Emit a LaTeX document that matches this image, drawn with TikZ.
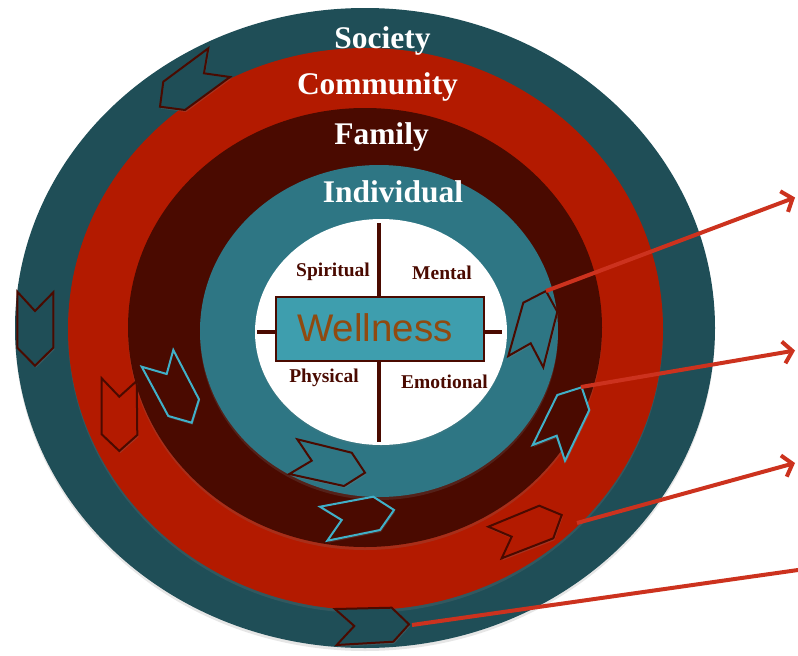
\documentclass[tikz,border=0pt]{standalone}
\usepackage{fontspec}
\setmainfont{Liberation Serif}
\newfontfamily\wellfont{Liberation Sans}
\usetikzlibrary{arrows.meta,shadows}

\definecolor{societyteal}{HTML}{1F4E57}
\definecolor{communityred}{HTML}{B31A00}
\definecolor{familybrown}{HTML}{4A0A00}
\definecolor{individualteal}{HTML}{2E7684}
\definecolor{wellnessblue}{HTML}{3E9EAE}
\definecolor{wellnesstext}{HTML}{8F4A10}
\definecolor{edgebrown}{HTML}{4A0A00}
\definecolor{edgeblue}{HTML}{40B0C8}
\definecolor{pointerred}{HTML}{CC321E}

\tikzset{
  ring/.style={drop shadow={opacity=0.2,shadow xshift=0pt,shadow yshift=-3pt}},
  ringlabel/.style={text=white,font=\bfseries\fontsize{31.5}{36}\selectfont,anchor=base},
  partlabel/.style={text=familybrown,font=\bfseries\fontsize{19.5}{22}\selectfont,anchor=base},
  chevron/.style={line width=2pt,drop shadow={opacity=0.25,shadow xshift=1pt,shadow yshift=-2pt}},
  societychev/.style={chevron,fill=societyteal,draw=edgebrown},
  communitychev/.style={chevron,fill=communityred,draw=edgebrown},
  familychev/.style={chevron,fill=familybrown,draw=edgeblue},
  individualchev/.style={chevron,fill=individualteal,draw=edgebrown},
  pointer/.style={pointerred,line width=4pt,-{Straight Barb[length=9pt,width=22pt]}},
}

\begin{document}
\begin{tikzpicture}[x=1pt,y=-1pt]
  \useasboundingbox (0,0) rectangle (798,656);

  % rings, outside in
  \fill[societyteal,ring] (365,328) ellipse (350pt and 320pt);
  \fill[communityred,ring] (365.5,329) ellipse (297.5pt and 281pt);
  \fill[familybrown,ring] (365,327.5) ellipse (237pt and 219.5pt);
  \fill[individualteal,ring] (379,331) ellipse (179pt and 166pt);
  \fill[white,drop shadow={opacity=0.12,shadow xshift=0pt,shadow yshift=-2pt}] (381,332) ellipse (126pt and 113pt);

  \node[ringlabel] (society) at (382.5,48) {Society};
  \node[ringlabel] (community) at (377.5,94) {Community};
  \node[ringlabel] (family) at (381.5,144) {Family};
  \node[ringlabel] (individual) at (393,202) {Individual};

  % cross and centre box
  \draw[familybrown,line width=4pt] (379,223) -- (379,442);
  \draw[familybrown,line width=4pt] (257,332) -- (502,332);
  \node[draw=familybrown,fill=wellnessblue,line width=2pt,minimum width=208pt,
        minimum height=64pt,inner sep=0pt] (wellness) at (380,329) {};
  \node[font=\wellfont\fontsize{38.5}{40}\selectfont,text=wellnesstext,anchor=base]
    (wellnesslabel) at (375,341) {Wellness};

  \node[partlabel] (spiritual) at (333,276) {Spiritual};
  \node[partlabel] (mental) at (442,279) {Mental};
  \node[partlabel] (physical) at (324,382) {Physical};
  \node[partlabel] (emotional) at (444.5,388) {Emotional};

  % chevrons round the rings
  \draw[societychev] (208.3,48.3) -- (204,73.3) -- (230,77) -- (185,110) -- (160,106.7) -- (163.3,81.7) -- cycle;
  \draw[societychev] (17.3,291.7) -- (35,311) -- (53.3,292.3) -- (53.3,347.7) -- (35,365.7) -- (17.3,347.7) -- cycle;
  \draw[societychev] (335,609) -- (354.3,626) -- (336.7,645) -- (393.3,641.7) -- (409,624.3) -- (391.7,607.7) -- cycle;
  \draw[communitychev] (101.7,378.3) -- (119.3,396.7) -- (136.7,381) -- (137.3,435) -- (119.3,451) -- (101.7,434.3) -- cycle;
  \draw[communitychev] (488.3,526.7) -- (511.7,536.7) -- (501.7,558.3) -- (553.3,538.3) -- (561.7,515) -- (539.3,505.7) -- cycle;
  \draw[familychev] (173.3,350) -- (166.7,374) -- (141.7,366.7) -- (168.3,416) -- (191.7,422.7) -- (199,399.3) -- cycle;
  \draw[familychev] (320,506.7) -- (341.7,520) -- (327.3,540.7) -- (380,530) -- (394,510) -- (373.3,496.7) -- cycle;
  \draw[familychev] (532.7,445) -- (556.7,435.7) -- (565,460.7) -- (589.3,410) -- (581.7,387.3) -- (557.3,395) -- cycle;
  \draw[individualchev] (297.3,439.3) -- (311.7,460.7) -- (289.3,474) -- (344,486) -- (365,472.7) -- (351.7,452.7) -- cycle;
  \draw[individualchev] (508.3,356) -- (530.7,343.3) -- (543.3,367.3) -- (557.3,311.7) -- (546,291) -- (523.3,302.7) -- cycle;

  % pointers out to the right
  \coordinate (indivstart) at (546,291);
  \coordinate (indivend) at (795,197.5);
  \coordinate (familystart) at (581,387);
  \coordinate (familyend) at (795,350.5);
  \coordinate (communitystart) at (577,523);
  \coordinate (communityend) at (795,463);
  \coordinate (societystart) at (412,625);
  \coordinate (societyend) at (800,569.7);
  \draw[pointer] (indivstart) -- (indivend);
  \draw[pointer] (familystart) -- (familyend);
  \draw[pointer] (communitystart) -- (communityend);
  \draw[pointerred,line width=4pt] (societystart) -- (societyend);
\end{tikzpicture}
\end{document}
